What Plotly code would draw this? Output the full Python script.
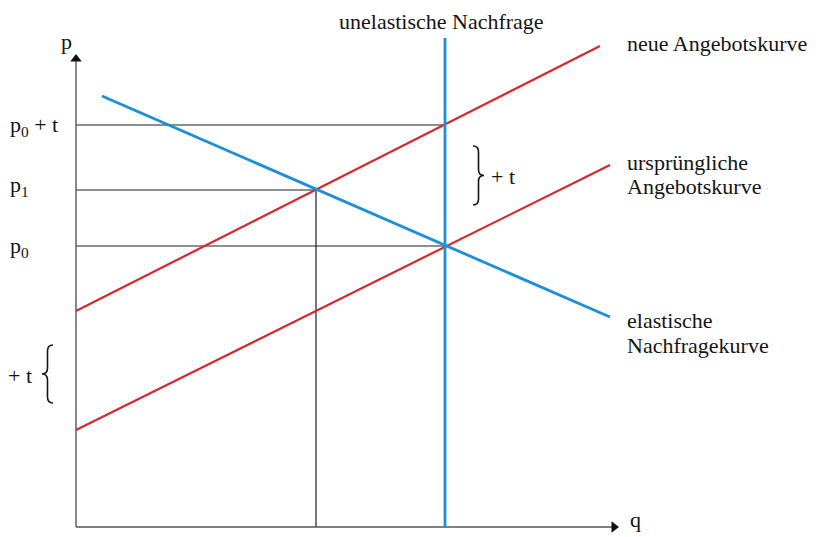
import plotly.graph_objects as go

# Werte (Einheiten: q nach rechts, p nach oben, Ursprung im Achsenkreuz)
q_nachfrage = [26, 534]          # elastische Nachfragekurve
p_nachfrage = [431, 210]
q_angebot = [0, 534]             # ursprüngliche Angebotskurve
p_angebot = [97, 362]
q_angebot_neu = [0, 524]         # neue Angebotskurve (um t verschoben)
p_angebot_neu = [216, 481]
q_unelastisch = [369, 369]       # unelastische Nachfrage
p_unelastisch = [0, 489]

q0 = 369
q1 = 240
p0 = 281
p1 = 337
p0_t = 402

q_achse_max = 542
p_achse_max = 472

preis_labels = ['p<sub>0</sub> + t', 'p<sub>1</sub>', 'p<sub>0</sub>']
preis_werte = [p0_t, p1, p0]
preis_shift = [-1, 4, -1]

FONT = 'Liberation Serif'
FS = 22
TXT = '#141414'
BLAU = '#1c8fd6'
ROT = '#d3292f'
SCHWARZ = '#1e1e1e'

fig = go.Figure()

# Hilfslinien
fig.add_trace(go.Scatter(x=[0, q0], y=[p0_t, p0_t], mode='lines',
                         line=dict(color=SCHWARZ, width=1.2), hoverinfo='skip'))
fig.add_trace(go.Scatter(x=[0, q1, q1], y=[p1, p1, 0], mode='lines',
                         line=dict(color=SCHWARZ, width=1.2), hoverinfo='skip'))
fig.add_trace(go.Scatter(x=[0, q0], y=[p0, p0], mode='lines',
                         line=dict(color=SCHWARZ, width=1.2), hoverinfo='skip'))

# Achsen
fig.add_trace(go.Scatter(x=[0, 0], y=[0, p_achse_max - 6], mode='lines',
                         line=dict(color='#555555', width=1.4), hoverinfo='skip'))
fig.add_trace(go.Scatter(x=[0, q_achse_max - 6], y=[0, 0], mode='lines',
                         line=dict(color='#555555', width=1.4), hoverinfo='skip'))
fig.add_trace(go.Scatter(x=[0], y=[p_achse_max - 4], mode='markers',
                         marker=dict(symbol='triangle-up', size=10, color='#111111'),
                         hoverinfo='skip'))
fig.add_trace(go.Scatter(x=[q_achse_max - 4], y=[0], mode='markers',
                         marker=dict(symbol='triangle-right', size=10, color='#111111'),
                         hoverinfo='skip'))

# Kurven
fig.add_trace(go.Scatter(x=q_angebot, y=p_angebot, mode='lines',
                         line=dict(color=ROT, width=2.2), hoverinfo='skip'))
fig.add_trace(go.Scatter(x=q_angebot_neu, y=p_angebot_neu, mode='lines',
                         line=dict(color=ROT, width=2.2), hoverinfo='skip'))
fig.add_trace(go.Scatter(x=q_nachfrage, y=p_nachfrage, mode='lines',
                         line=dict(color=BLAU, width=2.8), hoverinfo='skip'))
fig.add_trace(go.Scatter(x=q_unelastisch, y=p_unelastisch, mode='lines',
                         line=dict(color=BLAU, width=2.8), hoverinfo='skip'))


def klammer(x_spitze, x_ende, y_lo, y_hi, d=6):
    xs = (x_spitze + x_ende) / 2
    ym = (y_lo + y_hi) / 2
    return (f'M {x_ende},{y_hi} Q {xs},{y_hi} {xs},{y_hi - d} '
            f'L {xs},{ym + d} Q {xs},{ym} {x_spitze},{ym} '
            f'Q {xs},{ym} {xs},{ym - d} L {xs},{y_lo + d} '
            f'Q {xs},{y_lo} {x_ende},{y_lo}')


fig.add_shape(type='path', path=klammer(-34, -23, 124, 182),
              line=dict(color=TXT, width=1.6), xref='x', yref='y')
fig.add_shape(type='path', path=klammer(408, 397, 322, 381),
              line=dict(color=TXT, width=1.6), xref='x', yref='y')


def text(x, y, s, xanchor='left', size=FS):
    fig.add_annotation(x=x, y=y, text=s, showarrow=False, xanchor=xanchor,
                       yanchor='middle', font=dict(family=FONT, size=size, color=TXT))


for lab, wert, sh in zip(preis_labels, preis_werte, preis_shift):
    fig.add_annotation(x=-68, y=wert, text=lab, showarrow=False, xanchor='left',
                       yanchor='middle', yshift=sh,
                       font=dict(family=FONT, size=FS, color=TXT))

text(-10, 486, 'p', xanchor='center')
text(559, 8, 'q', xanchor='center')
# Titel der senkrechten Kurve oben am Rand verankern
fig.add_annotation(x=365, y=1, yref='paper', text='unelastische Nachfrage',
                   showarrow=False, xanchor='center', yanchor='top', borderpad=0,
                   font=dict(family=FONT, size=FS, color=TXT))
text(549, 484, 'neue Angebotskurve')
text(549, 365, 'ursprüngliche')
text(549, 341, 'Angebotskurve')
text(549, 207, 'elastische')
text(549, 182, 'Nachfragekurve')
text(-56, 152, '+ t', xanchor='center')
text(427, 351, '+ t', xanchor='center')

# die Seite hat 8px Rand oben/links -> Figur entsprechend kleiner
fig.update_layout(
    width=810,
    height=529,
    margin=dict(l=0, r=0, t=0, b=0),
    plot_bgcolor='white',
    paper_bgcolor='white',
    showlegend=False,
    xaxis=dict(range=[-68, 742], visible=False, fixedrange=True),
    yaxis=dict(range=[-10, 519], visible=False, fixedrange=True),
)

fig.write_html("out.html")
